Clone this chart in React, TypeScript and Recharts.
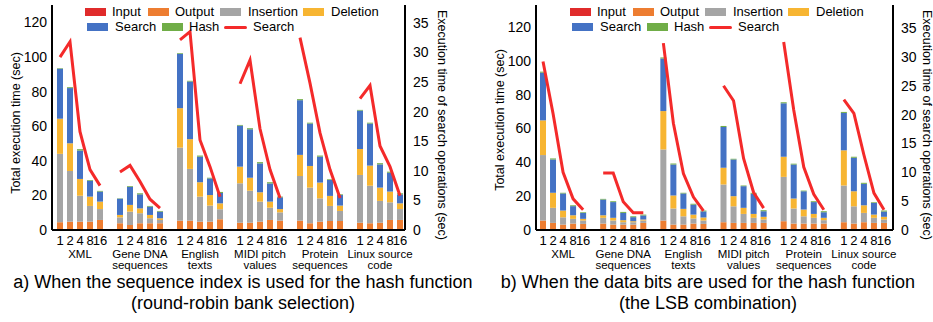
import React from 'react';
import { ComposedChart, Bar, Line, XAxis, YAxis } from 'recharts';

const groups = [
  ['XML'],
  ['Gene DNA', 'sequences'],
  ['English', 'texts'],
  ['MIDI pitch', 'values'],
  ['Protein', 'sequences'],
  ['Linux source', 'code'],
];
const sizes = ['1', '2', '4', '8', '16'];
const leftTicks = [0, 20, 40, 60, 80, 100, 120];
const rightTicks = [0, 5, 10, 15, 20, 25, 30, 35];

// a) sequence index (round-robin bank selection)
const inputA = [0.3, 0.3, 0.3, 0.3, 0.3, 0.3, 0.3, 0.3, 0.3, 0.3, 0.3, 0.3, 0.3, 0.3, 0.3, 0.3, 0.3, 0.3, 0.3, 0.3, 0.5, 0.3, 0.3, 0.3, 0.3, 0.3, 0.3, 0.3, 0.3, 0.3];
const outputA = [4.2, 4.5, 4.5, 4.5, 5.5, 3.6, 2.6, 3.6, 3.6, 3.6, 5.1, 5.1, 4.5, 4.5, 5.9, 3.9, 3.9, 4.5, 5.5, 5.1, 4.9, 3.6, 4.5, 4.9, 4.9, 3.9, 3.6, 3.9, 5.5, 5.5];
const insertionA = [39.5, 29.3, 15, 9.1, 6.3, 3.4, 7.7, 5.8, 2.9, 1.9, 42.2, 29.9, 14.5, 9.3, 5.8, 22.8, 18.5, 11.6, 7.1, 4.8, 25.8, 20.6, 13.5, 8.7, 5.8, 27.6, 21.7, 12.6, 10.2, 6.3];
const deletionA = [20.3, 16, 9.7, 5.4, 4.3, 1.4, 3.9, 2.8, 1.9, 1.0, 22.8, 17.2, 8.3, 6.1, 3.4, 9.6, 7.5, 5.4, 3.5, 1.9, 12.2, 12.5, 9.1, 5.8, 3.1, 15, 11.6, 7.7, 6.2, 3.3];
const searchA = [28.9, 31.9, 16.4, 9.2, 5.8, 9.4, 10.5, 8.1, 4.8, 3.8, 31.4, 33.3, 14.8, 9.6, 6.0, 23.7, 28, 16.7, 10.5, 6.8, 31.6, 24.5, 15, 9.2, 6.1, 22.2, 24.3, 13.4, 10.9, 5.2];
const hashA = [0.3, 0.5, 0.8, 0.4, 0.4, 0.2, 0.4, 0.6, 0.4, 0.4, 0.4, 0.4, 0.6, 0.4, 0.6, 0.4, 0.6, 0.7, 0.7, 0.4, 0.6, 0.5, 0.6, 0.4, 0.4, 0.4, 0.5, 0.7, 0.6, 0.6];
const searchTimeA = [29.2, 31.8, 16.6, 10.2, 7.5, 9.8, 10.9, 8.2, 5.2, 3.7, 32.1, 33.5, 15.2, 10.7, 5.6, 24.7, 28.7, 17.1, 10.2, 5.4, 32.5, 24.8, 16.4, 10.2, 5.4, 22.2, 24.4, 14.2, 10.7, 5.8];

// b) data bits (LSB combination)
const inputB = [0.3, 0.3, 0.3, 0.3, 0.3, 0.3, 0.3, 0.3, 0.3, 0.3, 0.3, 0.3, 0.3, 0.3, 0.3, 0.3, 0.3, 0.3, 0.3, 0.3, 0.4, 0.3, 0.3, 0.3, 0.3, 0.3, 0.3, 0.3, 0.3, 0.3];
const outputB = [5.3, 3.9, 2.9, 3.5, 3.3, 3.5, 2.9, 2.9, 2.9, 3.9, 5.3, 2.9, 2.9, 3.5, 3.3, 4.3, 3.9, 3.9, 3.9, 3.9, 4.8, 3.5, 3.5, 3.5, 3.5, 4.3, 3.5, 4.3, 3.9, 3.9];
const insertionB = [38.7, 8.9, 4.3, 2.8, 2.0, 3.4, 2.4, 1.4, 1.4, 1.4, 42, 9.5, 4.9, 3.0, 2.0, 22.3, 9.8, 5.3, 3.0, 2.0, 26.2, 8.9, 4.3, 3.4, 2.0, 21.7, 10.2, 5.5, 3.0, 2.0];
const deletionB = [20.5, 8.9, 4.0, 2.1, 1.0, 1.5, 1.6, 1.2, 0.6, 0.6, 22.7, 7.7, 4.4, 2.3, 1.8, 9.9, 6.0, 3.6, 2.3, 1.6, 11.9, 5.9, 4.0, 2.3, 1.4, 20.8, 8.9, 4.5, 1.9, 1.6];
const searchB = [28.2, 19.7, 10.1, 5.4, 3.5, 9.3, 9.3, 4.3, 2.4, 2.4, 31.1, 18.3, 9.1, 5.9, 3.6, 24.1, 21.7, 12.8, 11.9, 3.3, 31.6, 20.1, 10.8, 7.0, 3.3, 22.1, 19.8, 12.7, 6.9, 3.1];
const hashB = [0.6, 0.6, 0.4, 0.5, 0.4, 0.4, 0.5, 0.6, 0.5, 0.5, 0.6, 0.6, 0.4, 0.5, 0.5, 0.6, 0.4, 0.4, 0.6, 0.6, 0.6, 0.5, 0.4, 0.5, 0.6, 0.6, 0.6, 0.6, 0.4, 0.6];
const searchTimeB = [29.2, 20.2, 10, 5.4, 3.5, 9.9, 9.9, 4.9, 3.0, 3.0, 32.4, 18.5, 9.8, 5.7, 3.3, 25, 22.4, 12.4, 6.5, 3.8, 32.6, 20.8, 10.9, 6.2, 3.5, 22.6, 20.2, 13, 6.4, 3.5];

const colors = {
  input: '#e02b2b',
  output: '#ed7d31',
  insertion: '#a5a5a5',
  deletion: '#f7b532',
  search: '#4472c4',
  hash: '#70ad47',
  line: '#f42a2a',
};

const font = "'Liberation Sans', Arial, sans-serif";
const narrow = "'Liberation Sans Narrow', 'Liberation Sans', Arial, sans-serif";

function buildRows(input: number[], output: number[], insertion: number[], deletion: number[], search: number[], hash: number[], line: number[]) {
  const rows: any[] = [];
  groups.forEach((g, gi) => {
    if (gi > 0) rows.push({ key: 'gap' + gi, line: null });
    sizes.forEach((s, si) => {
      const i = gi * 5 + si;
      rows.push({
        key: gi + '|' + s,
        input: input[i],
        output: output[i],
        insertion: insertion[i],
        deletion: deletion[i],
        search: search[i],
        hash: hash[i],
        line: line[i],
      });
    });
  });
  return rows;
}

const rowsA = buildRows(inputA, outputA, insertionA, deletionA, searchA, hashA, searchTimeA);
const rowsB = buildRows(inputB, outputB, insertionB, deletionB, searchB, hashB, searchTimeB);

const SizeTick = (props: any) => {
  const { x, y, payload } = props;
  const key = String(payload.value);
  if (key.startsWith('gap')) return <g />;
  const [gi, s] = key.split('|');
  const label = groups[Number(gi)];
  return (
    <g>
      <text x={x} y={y + 7} textAnchor="middle" fontSize={13} fontFamily={narrow} fill="#000">{s}</text>
      {s === '4' &&
        label.map((t, k) => (
          <text key={k} x={x} y={y + 19.5 + k * 11} textAnchor="middle" fontSize={11.5} fontFamily={font} fill="#000">{t}</text>
        ))}
    </g>
  );
};

const Panel = ({ left, width, rightW, rows, leftMax, rightMax, padL, padR }: any) => (
  <div style={{ position: 'absolute', left, top: 0 }}>
    <ComposedChart width={width} height={322} data={rows} margin={{ top: 5, right: 0, bottom: 0, left: 0 }} barCategoryGap={0}>
      <XAxis
        dataKey="key"
        interval={0}
        tickLine={false}
        axisLine={{ stroke: '#000', strokeWidth: 2 }}
        height={92}
        padding={{ left: padL, right: padR }}
        tick={<SizeTick />}
      />
      <YAxis
        yAxisId="l"
        domain={[0, leftMax]}
        ticks={leftTicks}
        width={52}
        tickLine={false}
        tickSize={3}
        axisLine={{ stroke: '#000', strokeWidth: 2 }}
        tick={{ fontSize: 14, fill: '#000', fontFamily: narrow }}
      />
      <YAxis
        yAxisId="r"
        orientation="right"
        domain={[0, rightMax]}
        ticks={rightTicks}
        width={rightW}
        tickLine={false}
        axisLine={{ stroke: '#000', strokeWidth: 2 }}
        tick={{ fontSize: 14, fill: '#000', fontFamily: narrow }}
      />
      <Bar yAxisId="l" dataKey="input" stackId="s" fill={colors.input} barSize={6} isAnimationActive={false} />
      <Bar yAxisId="l" dataKey="output" stackId="s" fill={colors.output} barSize={6} isAnimationActive={false} />
      <Bar yAxisId="l" dataKey="insertion" stackId="s" fill={colors.insertion} barSize={6} isAnimationActive={false} />
      <Bar yAxisId="l" dataKey="deletion" stackId="s" fill={colors.deletion} barSize={6} isAnimationActive={false} />
      <Bar yAxisId="l" dataKey="search" stackId="s" fill={colors.search} barSize={6} isAnimationActive={false} />
      <Bar yAxisId="l" dataKey="hash" stackId="s" fill={colors.hash} barSize={6} isAnimationActive={false} />
      <Line yAxisId="r" dataKey="line" stroke={colors.line} strokeWidth={3} dot={false} isAnimationActive={false} />
    </ComposedChart>
  </div>
);

const Swatch = ({ x, y, color, text, tx, line }: any) => (
  <>
    {line ? (
      <div style={{ position: 'absolute', left: x, top: y - 1.5, width: 23, height: 3, background: color, borderRadius: 2 }} />
    ) : (
      <div style={{ position: 'absolute', left: x, top: y - 4, width: 21, height: 8, background: color }} />
    )}
    <div style={{ position: 'absolute', left: tx, top: y - 8, fontSize: 13, lineHeight: '16px', whiteSpace: 'nowrap' }}>{text}</div>
  </>
);

const Legend = ({ dx }: any) => (
  <>
    <Swatch x={dx + 85} tx={dx + 112} y={12} color={colors.input} text="Input" />
    <Swatch x={dx + 148} tx={dx + 175} y={12} color={colors.output} text="Output" />
    <Swatch x={dx + 220} tx={dx + 248} y={12} color={colors.insertion} text="Insertion" />
    <Swatch x={dx + 303} tx={dx + 331} y={12} color={colors.deletion} text="Deletion" />
    <Swatch x={dx + 87} tx={dx + 115} y={27} color={colors.search} text="Search" />
    <Swatch x={dx + 162} tx={dx + 189} y={27} color={colors.hash} text="Hash" />
    <Swatch x={dx + 224} tx={dx + 253} y={27} color={colors.line} text="Search" line />
  </>
);

const VLabel = ({ cx, cy, text, deg }: any) => (
  <div
    style={{
      position: 'absolute',
      left: cx,
      top: cy,
      transform: `translate(-50%, -50%) rotate(${deg}deg)`,
      fontSize: 12.5,
      whiteSpace: 'nowrap',
    }}
  >
    {text}
  </div>
);

const Title = ({ cx, lines }: any) => (
  <div style={{ position: 'absolute', left: cx - 250, top: 272, width: 500, textAlign: 'center', fontSize: 18, lineHeight: '21px' }}>
    {lines.map((l: string, i: number) => (
      <div key={i}>{l}</div>
    ))}
  </div>
);

export default function App() {
  return (
    <div style={{ position: 'absolute', left: 0, top: 0, width: 933, height: 322, fontFamily: font, color: '#000', background: '#fff' }}>
      <Panel left={0} width={440} rightW={35} rows={rowsA} leftMax={130} rightMax={38} padL={3} padR={0} />
      <Panel left={484} width={449} rightW={40} rows={rowsB} leftMax={133} rightMax={39} padL={2} padR={4} />
      <Legend dx={0} />
      <Legend dx={485} />
      <VLabel cx={16} cy={123} deg={-90} text="Total execution time (sec)" />
      <VLabel cx={442} cy={125} deg={90} text="Execution time of search operations (sec)" />
      <VLabel cx={500} cy={120} deg={-90} text="Total execution time (sec)" />
      <VLabel cx={927} cy={125} deg={90} text="Execution time of search operations (sec)" />
      <Title cx={243} lines={['a) When the sequence index is used for the hash function', '(round-robin bank selection)']} />
      <Title cx={708} lines={['b) When the data bits are used for the hash function', '(the LSB combination)']} />
    </div>
  );
}
